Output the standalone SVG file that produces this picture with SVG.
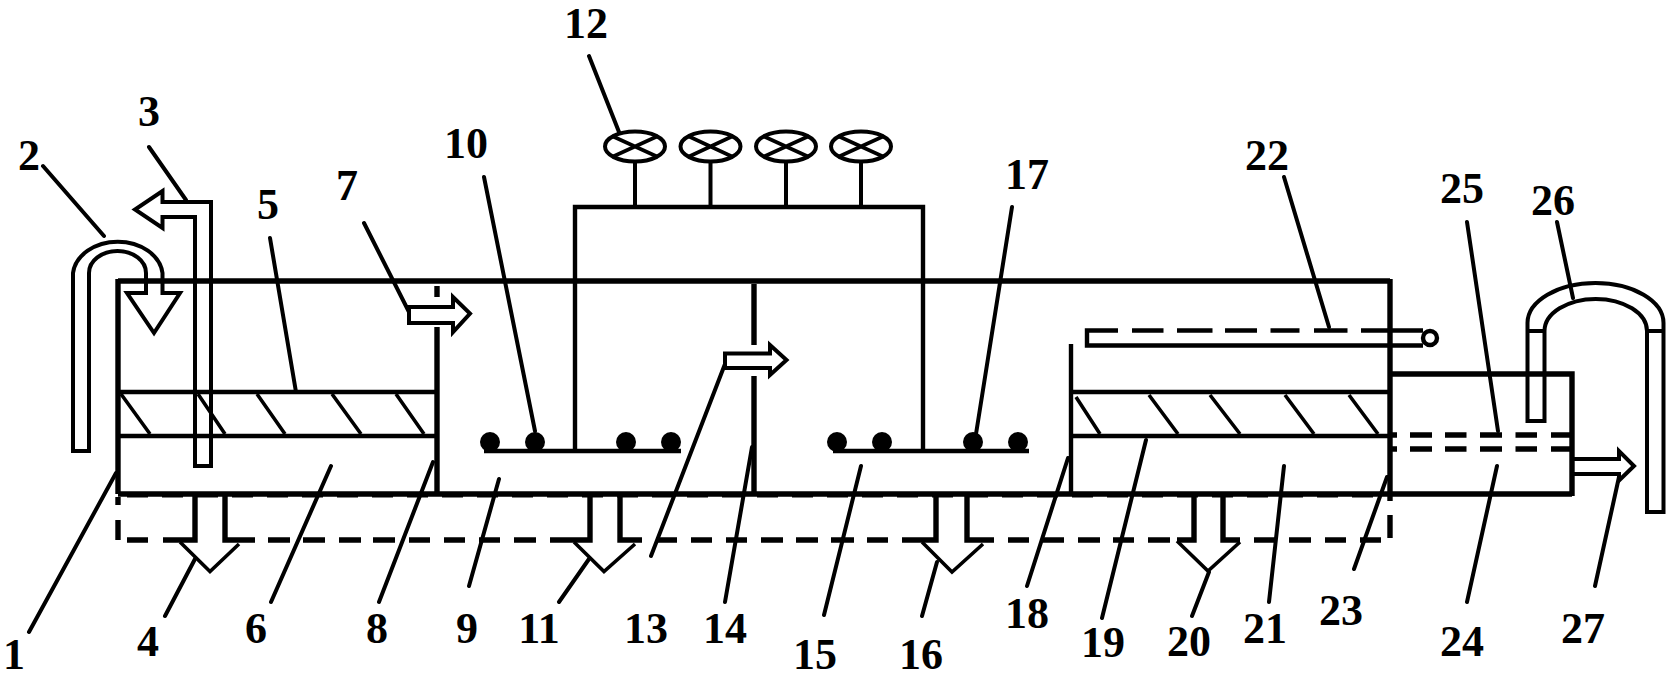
<svg xmlns="http://www.w3.org/2000/svg" width="1669" height="680" viewBox="0 0 1669 680">
<style>
.l{fill:none;stroke:#000;stroke-width:4.4}
.t{fill:none;stroke:#000;stroke-width:5.4}
.o{fill:none;stroke:#000;stroke-width:4}
.h{fill:none;stroke:#000;stroke-width:3.6}
.d{fill:#000}
.ld{fill:none;stroke:#000;stroke-width:4;stroke-linecap:round}
text{font-family:"Liberation Serif","Times New Roman",serif;font-weight:bold;font-size:44px;text-anchor:middle;fill:#000}
</style>
<rect width="1669" height="680" fill="#fff"/>
<g id="tank">
<path class="t" d="M118 281H1390M118 494H1572M118 279V494M1390 279V501"/>
<path class="t" d="M118 497V505M118 520V540M1390 515V538"/>
<path class="t" d="M127 540H148M163 540H195V494M225 494V540H255M268 540H290M303 540H325M339 540H361M373 540H395M409 540H430M444 540H465M479 540H500M514 540H536M550 540H590V494M620 494V540H642M656 540H677M691 540H712M726 540H747M761 540H783M796 540H818M831 540H854M867 540H888M902 540H936V494M967 494V540H994M1008 540H1029M1043 540H1064M1078 540H1100M1113 540H1134M1148 540H1170M1177 540H1194V494M1223 494V540H1240M1254 540H1276M1289 540H1311M1325 540H1346M1360 540H1381"/>
<path fill="none" stroke="#000" stroke-width="2" stroke-dasharray="21 14" d="M127 496.500H1381"/>
</g>
<g id="filter-1">
<path class="l" d="M118 392H437M118 436H437"/>
<path class="h" d="M121 394L150 434M198 394L225 434M257 394L285 434M332 394L361 434M396 394L424 434"/>
</g>
<g id="filter-2">
<path class="l" d="M1071 392H1390M1071 436H1390"/>
<path class="h" d="M1076 397L1100 434M1149 395L1178 434M1210 395L1240 434M1285 395L1314 434M1349 395L1378 434"/>
</g>
<g id="partitions">
<path class="t" d="M437 286V297M437 327V494M754 284V345M754 376V494"/>
<path class="l" d="M1071 344V494"/>
</g>
<g id="inlet-pipe-2">
<path class="o" d="M73 451V273A45 35 0 0 1 162.500 273V293H180L154 333L127 293H146V273A28.500 22 0 0 0 89 273V451Z"/>
</g>
<g id="outlet-pipe-3">
<path class="o" d="M195 466H211V202H162.500V191L135 209.500L162.500 228V217H195Z"/>
</g>
<g id="flow-arrow-7"><path class="o" d="M409 307H453V297L470 313.500L453 332V323H409Z"/></g>
<g id="flow-arrow-13"><path class="o" d="M725 353.500H770V345L786.500 360L770 375V368H725Z"/></g>
<g id="flow-arrow-27"><path class="o" d="M1574 459H1619V451L1634 466L1619 480.500V474H1574"/></g>
<g id="down-arrows">
<path class="h" d="M180 542L210 571.500L239 544M574 542L604 571.500L635 544M922 542L952 572L983 544M1177 541L1208 571L1240 542"/>
</g>
<g id="fans-12">
<path class="l" d="M575 451V207H923V451"/>
<path class="o" d="M635 163V207M710.500 163V207M786 163V207M861 163V207"/>
<ellipse class="o" cx="635" cy="146.500" rx="30" ry="15"/>
<ellipse class="o" cx="710.500" cy="146.500" rx="30" ry="15"/>
<ellipse class="o" cx="786" cy="146.500" rx="30" ry="15"/>
<ellipse class="o" cx="861" cy="146.500" rx="30" ry="15"/>
<path class="h" d="M612 136L658 157M612 157L658 136M688 136L733 157M688 157L733 136M763 136L809 157M763 157L809 136M838 136L884 157M838 157L884 136"/>
</g>
<g id="aerator-10">
<path class="l" d="M484 451H681"/>
<circle class="d" cx="490" cy="442" r="10"/><circle class="d" cx="535" cy="442" r="10"/><circle class="d" cx="626" cy="442" r="10"/><circle class="d" cx="671" cy="442" r="10"/>
</g>
<g id="aerator-17">
<path class="l" d="M833 451H1029"/>
<circle class="d" cx="837" cy="442" r="10"/><circle class="d" cx="882" cy="442" r="10"/><circle class="d" cx="973" cy="442" r="10"/><circle class="d" cx="1018" cy="442" r="10"/>
</g>
<g id="pipe-22">
<path class="l" d="M1118 330.500H1087V345.500H1423M1132 330.500H1163.500M1177 330.500H1212.500M1225 330.500H1257M1270.500 330.500H1299.500M1314 330.500H1347.500M1361 330.500H1423"/>
<circle class="l" cx="1430" cy="338" r="7"/>
</g>
<g id="clear-tank-24">
<path class="t" d="M1390 374H1572V496"/>
<path class="t" d="M1392 435H1397M1410 435H1432M1445 435H1466.500M1480 435H1502M1515.500 435H1537M1551 435H1572M1392 449H1397M1410 449H1432M1445 449H1466.500M1480 449H1502M1515.500 449H1537M1551 449H1572"/>
</g>
<g id="siphon-26">
<path class="o" d="M1527.500 331H1544.500V421H1527.500ZM1647 331H1663.500V512H1647ZM1527.500 331V323A68 40 0 0 1 1663.500 323V331M1544.500 331A51 32 0 0 1 1647 331"/>
</g>
<g id="connectors">
<path class="ld" d="M29 632L116 473M43 166L104 236M149 147L186 200M165 616L195 559M270 238L296 392M271 602L331 466M364 223L409 312M379 602L433 462M469 586L499 479M484 177L535 431M559 602L589 559M589 56L619 132M651 556L725 364M725 602L752 447M824 615L861 466M922 616L937 562M1012 207L976 434M1027 586L1068 458M1102 618L1146 440M1192 616L1209 572M1269 602L1284 466M1284 177L1329 327M1354 569L1387 477M1467 602L1497 466M1467 222L1498 431M1557 222L1573 298M1595 586L1619 477"/>
</g>
<g id="labels">
<text x="14" y="669">1</text><text x="29" y="170">2</text><text x="149" y="126">3</text><text x="148" y="656">4</text><text x="268" y="219">5</text><text x="256" y="643">6</text><text x="347" y="200">7</text><text x="377" y="643">8</text><text x="467" y="643">9</text><text x="466" y="158">10</text><text x="539" y="643">11</text><text x="586" y="38">12</text><text x="646" y="643">13</text><text x="725" y="643">14</text><text x="815" y="669">15</text><text x="921" y="669">16</text><text x="1027" y="189">17</text><text x="1027" y="628">18</text><text x="1103" y="657">19</text><text x="1189" y="656">20</text><text x="1265" y="643">21</text><text x="1267" y="170">22</text><text x="1341" y="625">23</text><text x="1462" y="656">24</text><text x="1462" y="203">25</text><text x="1553" y="215">26</text><text x="1583" y="643">27</text>
</g>
</svg>
